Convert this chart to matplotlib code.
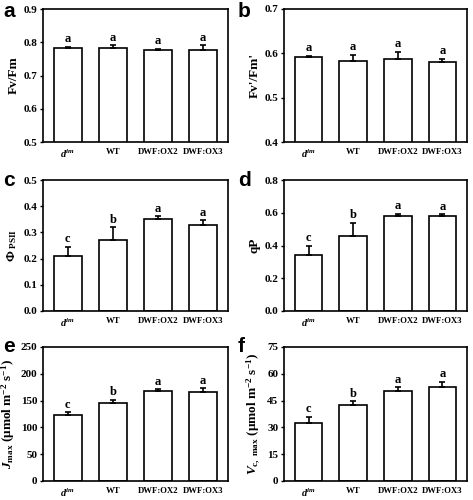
import matplotlib
matplotlib.use("Agg")
import matplotlib.pyplot as plt
import numpy as np

plt.rcParams["font.family"] = ["Liberation Serif", "DejaVu Serif"]
plt.rcParams["font.weight"] = "bold"
plt.rcParams["mathtext.fontset"] = "custom"
plt.rcParams["mathtext.rm"] = "Liberation Serif:bold"
plt.rcParams["mathtext.it"] = "Liberation Serif:bold:italic"
plt.rcParams["mathtext.bf"] = "Liberation Serif:bold"

GENOTYPES = [r"$\mathit{d}^{\mathit{im}}$", "WT", "DWF:OX2", "DWF:OX3"]

FVFM = [0.783, 0.783, 0.778, 0.778]
FVFM_ERR = [0.003, 0.008, 0.003, 0.013]
FVFM_SIG = ["a", "a", "a", "a"]

FVFM_P = [0.591, 0.582, 0.587, 0.580]
FVFM_P_ERR = [0.003, 0.015, 0.017, 0.008]
FVFM_P_SIG = ["a", "a", "a", "a"]

PHI_PSII = [0.21, 0.27, 0.35, 0.33]
PHI_PSII_ERR = [0.036, 0.05, 0.012, 0.016]
PHI_PSII_SIG = ["c", "b", "a", "a"]

QP = [0.34, 0.46, 0.58, 0.58]
QP_ERR = [0.06, 0.08, 0.012, 0.01]
QP_SIG = ["c", "b", "a", "a"]

JMAX = [124, 146, 168, 166]
JMAX_ERR = [4, 6, 3, 7]
JMAX_SIG = ["c", "b", "a", "a"]

VCMAX = [32.5, 42.5, 50.2, 52.6]
VCMAX_ERR = [3.5, 2.0, 2.3, 3.0]
VCMAX_SIG = ["c", "b", "a", "a"]

# (letter, values, errors, significance, ylabel, ylim, ytick step, tick format)
PANELS = [
    ("a", FVFM, FVFM_ERR, FVFM_SIG, "Fv/Fm", (0.5, 0.9), 0.1, "{:.1f}"),
    ("b", FVFM_P, FVFM_P_ERR, FVFM_P_SIG, "Fv'/Fm'", (0.4, 0.7), 0.1, "{:.1f}"),
    ("c", PHI_PSII, PHI_PSII_ERR, PHI_PSII_SIG, r"$\Phi_{\ \mathrm{PSII}}$", (0.0, 0.5), 0.1, "{:.1f}"),
    ("d", QP, QP_ERR, QP_SIG, "qP", (0.0, 0.8), 0.2, "{:.1f}"),
    ("e", JMAX, JMAX_ERR, JMAX_SIG,
     r"$\mathit{J}_{\mathrm{max}}$ ($\mathrm{\mu}$mol m$^{-2}$ s$^{-1}$)", (0, 250), 50, "{:.0f}"),
    ("f", VCMAX, VCMAX_ERR, VCMAX_SIG,
     r"$\mathit{V}_{\mathrm{c,\ max}}$ ($\mathrm{\mu}$mol m$^{-2}$ s$^{-1}$)", (0, 75), 15, "{:.0f}"),
]

W, H = 473, 500
# axes boxes in pixels: left, right / top, bottom
COLS = [(43, 228), (284, 467)]
ROWS = [(9, 142), (180, 311), (347, 481)]
LETTER_X = [3, 238]
LETTER_Y = [2, 171, 337]

fig = plt.figure(figsize=(W / 100, H / 100), dpi=100)

for i, (letter, vals, errs, sig, ylabel, ylim, step, fmt) in enumerate(PANELS):
    x0, x1 = COLS[i % 2]
    y0, y1 = ROWS[i // 2]
    ax = fig.add_axes([x0 / W, 1 - y1 / H, (x1 - x0) / W, (y1 - y0) / H])
    x = np.arange(len(vals))
    ax.bar(x, vals, width=0.62, color="white", edgecolor="black", linewidth=1.2,
           yerr=[np.zeros(len(errs)), errs], capsize=2.5,
           error_kw=dict(elinewidth=1.2, capthick=1.2, ecolor="black"))
    span = ylim[1] - ylim[0]
    for xi, v, e, s in zip(x, vals, errs, sig):
        ax.text(xi, v + e + span * 0.012, s, ha="center", va="bottom",
                fontsize=9, fontweight="bold")
    ax.set_xlim(-0.55, 3.55)
    ax.set_ylim(*ylim)
    ticks = np.arange(ylim[0], ylim[1] + step / 2, step)
    ax.set_yticks(ticks)
    ax.set_yticklabels([fmt.format(t) for t in ticks], fontsize=8, fontweight="bold")
    ax.set_xticks(x)
    ax.set_xticklabels(GENOTYPES, fontsize=6.3, fontweight="bold")
    ax.get_xticklabels()[0].set_fontsize(7.5)
    ax.tick_params(axis="x", length=0, pad=4)
    ax.tick_params(axis="y", direction="out", length=2.5, width=1, pad=1.5)
    for sp in ax.spines.values():
        sp.set_linewidth(1.2)
    ax.set_ylabel(ylabel, fontsize=9.5, fontweight="bold", labelpad=3)
    fig.text(LETTER_X[i % 2] / W, 1 - LETTER_Y[i // 2] / H, letter, fontsize=15,
             fontweight="bold", family="Liberation Sans", ha="left", va="top")

fig.savefig("out.png", dpi=100)
